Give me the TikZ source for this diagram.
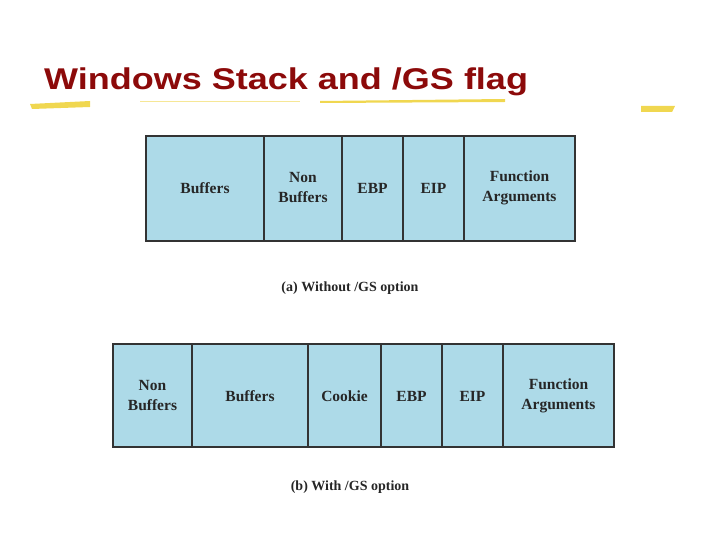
\documentclass[tikz,border=0pt]{standalone}
\usepackage{fontspec}
\setmainfont{Liberation Serif}
\newfontfamily\titlefont{Liberation Sans}
\definecolor{cellblue}{RGB}{173,218,232}
\definecolor{titlered}{RGB}{140,10,10}
\definecolor{hl}{RGB}{240,215,80}
\begin{document}
\begin{tikzpicture}[x=1pt,y=-1pt,
  cell/.style={draw=black!80,line width=1.2pt,fill=cellblue},
  lbl/.style={font=\bfseries\fontsize{15.5}{20}\selectfont,align=center,text=black!85},
  captext/.style={font=\bfseries\fontsize{14}{16}\selectfont,text=black!85}]
\useasboundingbox (0,0) rectangle (720,540);
\node[anchor=base west,font=\titlefont\bfseries\fontsize{30}{32}\selectfont,text=titlered,inner sep=0,xscale=1.2] (title) at (44,90) {Windows Stack and /GS flag};
\fill[hl] (30,104) -- (90,101) -- (90,107) -- (32,109) -- cycle;
\fill[hl] (320,101) -- (505,99) -- (505,102) -- (320,103) -- cycle;
\fill[hl!60] (140,101) -- (300,101) -- (300,102.5) -- (140,102.5) -- cycle;
\fill[hl] (641,106) -- (675,106) -- (672,112) -- (641,112) -- cycle;
% top row
\foreach \a/\b/\t [count=\i] in {146/264/Buffers,264/342/{Non\\Buffers},342/403/EBP,403/464/EIP,464/575/{Function\\Arguments}}{
  \draw[cell] (\a,136) rectangle (\b,241);
  \node[lbl] (t\i) at ({(\a+\b)/2},188) {\t};
}
\node[captext] (capa) at (350,288) {(a) Without /GS option};
% bottom row
\foreach \a/\b/\t [count=\i] in {113/192/{Non\\Buffers},192/308/Buffers,308/381/Cookie,381/442/EBP,442/503/EIP,503/614/{Function\\Arguments}}{
  \draw[cell] (\a,344) rectangle (\b,447);
  \node[lbl] (b\i) at ({(\a+\b)/2},396) {\t};
}
\node[captext] (capb) at (350,487) {(b) With /GS option};
\end{tikzpicture}
\end{document}
